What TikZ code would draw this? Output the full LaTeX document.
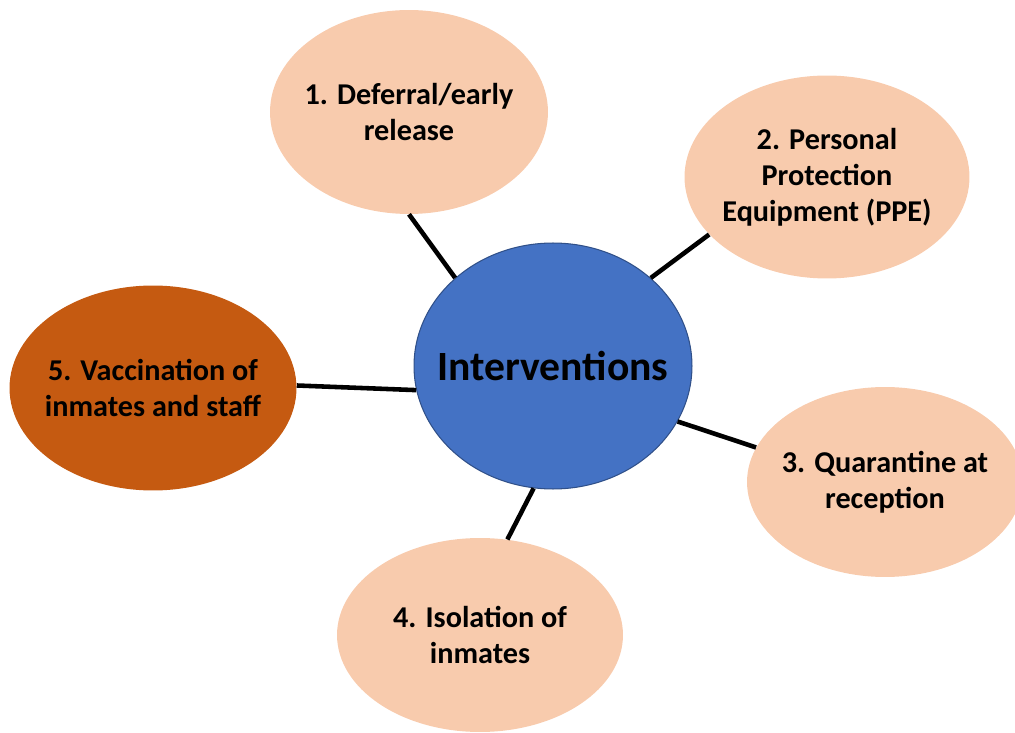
\documentclass[tikz,border=0pt]{standalone}
\usepackage{fontspec}
\setmainfont{Carlito}
\usepackage{tikz}
\usetikzlibrary{shapes.geometric}

\definecolor{peach}{HTML}{F8CBAD}
\definecolor{rust}{HTML}{C55A11}
\definecolor{hubblue}{HTML}{4472C4}

\tikzset{
    % negative inner sep: the size comes from minimum width/height only
    bubble/.style={ellipse, fill=peach, inner sep=-1cm, align=center,
        font=\bfseries\fontsize{17.2}{20.4}\selectfont},
    spoke/.style={line width=2.6pt, black}
}

\begin{document}
\begin{tikzpicture}[x=0.02cm, y=-0.02cm]
    \useasboundingbox (0,0) rectangle (1015,733);

    % Hub in the middle
    \node[ellipse, fill=hubblue, draw=hubblue!70!black, line width=0.6pt,
          minimum width=5.56cm, minimum height=4.92cm, inner sep=-1.5cm,
          font=\bfseries\fontsize{23.7}{26}\selectfont] (hub) at (553,366) {Interventions};

    % The five interventions around it
    \node[bubble, minimum width=5.56cm, minimum height=4.08cm] (defer) at (409,112) {1. Deferral/early\\release};
    \node[bubble, minimum width=5.70cm, minimum height=4.06cm] (ppe) at (827,177) {2. Personal\\Protection\\Equipment (PPE)};
    \node[bubble, minimum width=5.52cm, minimum height=3.80cm] (quar) at (885,482) {3. Quarantine at\\reception};
    \node[bubble, minimum width=5.72cm, minimum height=3.88cm] (isol) at (480,635) {4. Isolation of\\inmates};
    \node[bubble, fill=rust, minimum width=5.74cm, minimum height=4.10cm] (vacc) at (153,388) {5. Vaccination of\\inmates and staff};

    % Spokes (not quite radial, so anchored by angle)
    \draw[spoke] (hub.138.7) -- (defer.-90.5);
    \draw[spoke] (hub.42.2) -- (ppe.-154.3);
    \draw[spoke] (hub.-24.7) -- (quar.165.3);
    \draw[spoke] (hub.-99.6) -- (isol.74.4);
    \draw[spoke] (hub.-170.5) -- (vacc.1.4);
\end{tikzpicture}
\end{document}
